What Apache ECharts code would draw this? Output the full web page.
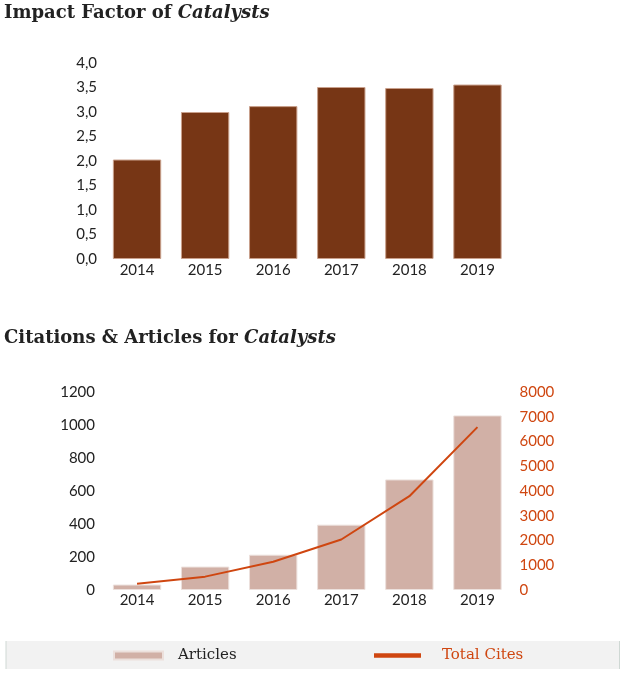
<!DOCTYPE html>
<html>
<head>
<meta charset="utf-8">
<script src="https://cdn.jsdelivr.net/npm/echarts@6/dist/echarts.min.js"></script>
<style>html,body{margin:0;padding:0;background:#fff;}#c{width:626px;height:676px;}</style>
</head>
<body>
<div id="c"></div>
<script>
const years = ['2014', '2015', '2016', '2017', '2018', '2019'];
const impactFactor = [2.03, 3.00, 3.12, 3.51, 3.49, 3.56];
const articles = [33, 142, 214, 396, 670, 1058];
const totalCites = [250, 540, 1140, 2040, 3790, 6580];
const ifTicks = { min: 0, max: 4, interval: 0.5 };
const artTicks = { min: 0, max: 1200, interval: 200 };
const citeTicks = { min: 0, max: 8000, interval: 1000 };

const axisFont = 'Lato, "Open Sans", sans-serif';
const titleFont = '"DejaVu Serif", serif';
const dark = '#222222';
const orange = '#cf4610';

const chart = echarts.init(document.getElementById('c'), null, { renderer: 'canvas' });
chart.setOption({
  animation: false,
  backgroundColor: '#ffffff',
  title: [
    {
      left: 4, top: 4, padding: 0,
      text: '{a|Impact Factor of }{b|Catalysts}',
      textStyle: { rich: {
        a: { fontFamily: titleFont, fontSize: 18, fontWeight: 'bold', color: dark },
        b: { fontFamily: titleFont, fontSize: 18, fontWeight: 'bold', fontStyle: 'italic', color: dark }
      } }
    },
    {
      left: 4, top: 329, padding: 0,
      text: '{a|Citations & Articles for }{b|Catalysts}',
      textStyle: { rich: {
        a: { fontFamily: titleFont, fontSize: 18, fontWeight: 'bold', color: dark },
        b: { fontFamily: titleFont, fontSize: 18, fontWeight: 'bold', fontStyle: 'italic', color: dark }
      } }
    }
  ],
  graphic: [
    { type: 'rect', shape: { x: 6, y: 641, width: 614, height: 28 }, style: { fill: '#f2f2f2' }, z: -1 },
    { type: 'line', shape: { x1: 6, y1: 641, x2: 6, y2: 669 }, style: { stroke: '#cfd8d4', lineWidth: 1 } },
    { type: 'line', shape: { x1: 619.5, y1: 641, x2: 619.5, y2: 669 }, style: { stroke: '#cfd8d4', lineWidth: 1 } }
  ],
  legend: [
    {
      left: 113, top: 648, padding: 0, itemWidth: 49, itemHeight: 8, itemGap: 0,
      data: [{ name: 'Articles', icon: 'rect', textStyle: { color: dark } }],
      textStyle: { fontFamily: titleFont, fontSize: 15, padding: [2, 0, 0, 10] },
      selectedMode: false
    },
    {
      left: 374, top: 648, padding: 0, itemWidth: 47, itemHeight: 8, itemGap: 0,
      data: [{ name: 'Total Cites', icon: 'path://M0,3.5L10,3.5L10,4.5L0,4.5Z', textStyle: { color: orange } }],
      itemStyle: { color: orange },
      textStyle: { fontFamily: titleFont, fontSize: 15, padding: [2, 0, 0, 16] },
      selectedMode: false
    }
  ],
  grid: [
    { left: 103, width: 408.5, top: 63, height: 196 },
    { left: 103, width: 408.5, top: 392, height: 198 }
  ],
  xAxis: [
    {
      type: 'category', gridIndex: 0, data: years,
      axisLine: { show: false }, axisTick: { show: false },
      axisLabel: { fontFamily: axisFont, fontSize: 15, color: dark, margin: 4 }
    },
    {
      type: 'category', gridIndex: 1, data: years,
      axisLine: { show: false }, axisTick: { show: false },
      axisLabel: { fontFamily: axisFont, fontSize: 15, color: dark, margin: 3 }
    }
  ],
  yAxis: [
    {
      type: 'value', gridIndex: 0, min: ifTicks.min, max: ifTicks.max, interval: ifTicks.interval,
      splitLine: { show: false }, axisLine: { show: false }, axisTick: { show: false },
      axisLabel: { fontFamily: axisFont, fontSize: 15, color: dark, margin: 6,
        formatter: v => v.toFixed(1).replace('.', ',') }
    },
    {
      type: 'value', gridIndex: 1, min: artTicks.min, max: artTicks.max, interval: artTicks.interval,
      splitLine: { show: false }, axisLine: { show: false }, axisTick: { show: false },
      axisLabel: { fontFamily: axisFont, fontSize: 15, color: dark, margin: 8, formatter: v => String(v) }
    },
    {
      type: 'value', gridIndex: 1, position: 'right', min: citeTicks.min, max: citeTicks.max, interval: citeTicks.interval,
      splitLine: { show: false }, axisLine: { show: false }, axisTick: { show: false },
      axisLabel: { fontFamily: axisFont, fontSize: 15, color: orange, margin: 8, formatter: v => String(v) }
    }
  ],
  series: [
    {
      name: 'Impact Factor', type: 'bar', xAxisIndex: 0, yAxisIndex: 0, data: impactFactor,
      barCategoryGap: '29%',
      itemStyle: { color: '#773615', borderColor: '#c9a08c', borderWidth: 1 }
    },
    {
      name: 'Articles', type: 'bar', xAxisIndex: 1, yAxisIndex: 1, data: articles,
      barCategoryGap: '29%',
      itemStyle: { color: '#d1b0a6', borderColor: '#ece0dc', borderWidth: 1 }
    },
    {
      name: 'Total Cites', type: 'line', xAxisIndex: 1, yAxisIndex: 2, data: totalCites,
      symbol: 'none', lineStyle: { color: orange, width: 2 }, itemStyle: { color: orange }
    }
  ]
});
</script>
</body>
</html>
